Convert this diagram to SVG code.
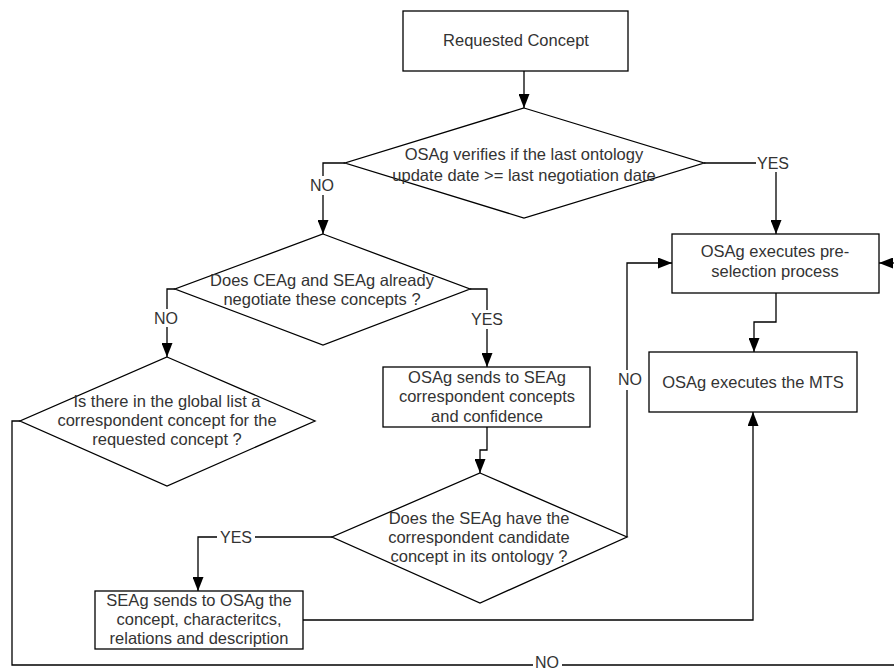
<svg xmlns="http://www.w3.org/2000/svg" width="894" height="670" viewBox="0 0 894 670">
  <style>
    .shape { fill: #ffffff; stroke: #000000; stroke-width: 1.3; }
    .txt { font-family: "Liberation Sans", Arial, sans-serif; font-size: 16.5px; fill: #333333; text-anchor: middle; }
    .lbl { font-family: "Liberation Sans", Arial, sans-serif; font-size: 16px; fill: #333333; text-anchor: middle; }
    .wire { fill: none; stroke: #000000; stroke-width: 1.3; }
    .arrow { marker-end: url(#head); }
  </style>
  <defs>
    <marker id="head" markerUnits="userSpaceOnUse" markerWidth="14" markerHeight="11" refX="14" refY="5.5" orient="auto">
      <path d="M0,0 L14,5.5 L0,11 z" fill="#000000"/>
    </marker>
  </defs>

  <rect width="894" height="670" fill="#ffffff"/>

  <!-- connectors -->
  <g id="connectors">
    <path class="wire arrow" d="M524,71 V108"/>
    <!-- first decision: YES -->
    <path class="wire" d="M704,163 H756"/>
    <path class="wire arrow" d="M776,172 V234"/>
    <!-- first decision: NO -->
    <path class="wire" d="M345,163 H323 V176"/>
    <path class="wire arrow" d="M323,195 V234"/>
    <!-- second decision: NO -->
    <path class="wire" d="M175,289 H167 V309"/>
    <path class="wire arrow" d="M167,327 V357"/>
    <!-- second decision: YES -->
    <path class="wire" d="M470,289 H487 V310"/>
    <path class="wire arrow" d="M487,329 V367"/>
    <!-- sends concepts to candidate check -->
    <path class="wire arrow" d="M487,427 V450 H480 V473"/>
    <!-- candidate check: YES -->
    <path class="wire" d="M332,537 H255"/>
    <path class="wire arrow" d="M217,537 H198 V591"/>
    <!-- candidate check: NO -->
    <path class="wire" d="M627,537 V390"/>
    <path class="wire arrow" d="M627,370 V263 H672"/>
    <!-- pre-selection to MTS -->
    <path class="wire arrow" d="M776,293 V322 H754 V352"/>
    <!-- SEAg reply to MTS -->
    <path class="wire arrow" d="M303,620 H753 V412"/>
    <!-- global list: NO loop back -->
    <path class="wire" d="M20,421 H12 V665 H533"/>
    <path class="wire" d="M562,665 H894"/>
    <path class="wire arrow" d="M894,263 H879"/>
    <!-- branch labels -->
    <text class="lbl" x="773" y="169">YES</text>
    <text class="lbl" x="322" y="191">NO</text>
    <text class="lbl" x="166" y="324">NO</text>
    <text class="lbl" x="487" y="325">YES</text>
    <text class="lbl" x="630" y="385">NO</text>
    <text class="lbl" x="236" y="543">YES</text>
    <text class="lbl" x="547" y="668">NO</text>
  </g>

  <g id="requested-concept">
    <rect class="shape" x="403" y="11" width="225" height="60"/>
    <text class="txt" x="516" y="46">Requested Concept</text>
  </g>

  <g id="check-update-date">
    <polygon class="shape" points="524,108 704,163 524,218 345,163"/>
    <text class="txt" x="524" y="160">OSAg verifies if the last ontology</text>
    <text class="txt" x="524" y="181">update date &gt;= last negotiation date</text>
  </g>

  <g id="pre-selection">
    <rect class="shape" x="672" y="234" width="207" height="59"/>
    <text class="txt" x="775" y="257">OSAg executes pre-</text>
    <text class="txt" x="775" y="277">selection process</text>
  </g>

  <g id="execute-mts">
    <rect class="shape" x="649" y="352" width="208" height="60"/>
    <text class="txt" x="753" y="388">OSAg executes the MTS</text>
  </g>

  <g id="already-negotiated">
    <polygon class="shape" points="323,234 470,289 323,345 175,289"/>
    <text class="txt" x="322" y="286">Does CEAg and SEAg already</text>
    <text class="txt" x="322" y="305">negotiate these concepts ?</text>
  </g>

  <g id="global-list">
    <polygon class="shape" points="167,357 315,421 167,486 20,421"/>
    <text class="txt" x="167" y="407">Is there in the global list a</text>
    <text class="txt" x="167" y="426">correspondent concept for the</text>
    <text class="txt" x="167" y="445">requested concept ?</text>
  </g>

  <g id="send-concepts">
    <rect class="shape" x="383" y="367" width="207" height="60"/>
    <text class="txt" x="487" y="383">OSAg sends to SEAg</text>
    <text class="txt" x="487" y="402">correspondent concepts</text>
    <text class="txt" x="487" y="422">and confidence</text>
  </g>

  <g id="candidate-check">
    <polygon class="shape" points="480,473 627,537 480,603 332,537"/>
    <text class="txt" x="479" y="524">Does the SEAg have the</text>
    <text class="txt" x="479" y="543">correspondent candidate</text>
    <text class="txt" x="479" y="562">concept in its ontology ?</text>
  </g>

  <g id="seag-reply">
    <rect class="shape" x="95" y="591" width="208" height="58"/>
    <text class="txt" x="199" y="606">SEAg sends to OSAg the</text>
    <text class="txt" x="199" y="625">concept, characteritcs,</text>
    <text class="txt" x="199" y="644">relations and description</text>
  </g>
</svg>
